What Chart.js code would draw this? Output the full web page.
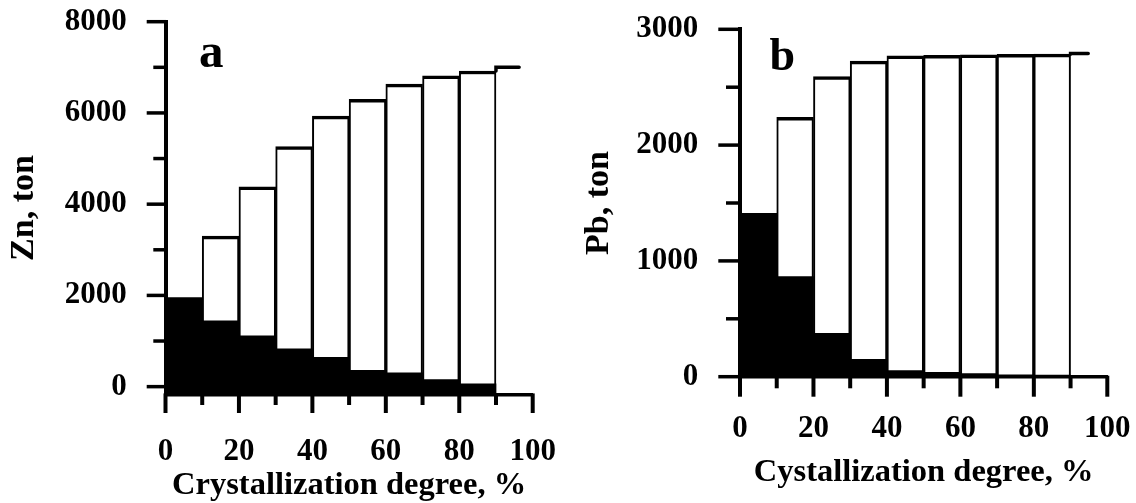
<!DOCTYPE html>
<html>
<head>
<meta charset="utf-8">
<script src="https://cdn.jsdelivr.net/npm/chart.js@4.4.0/dist/chart.umd.min.js"></script>
<style>
html,body{margin:0;padding:0;background:#fff;}
#wrap{position:relative;width:1136px;height:503px;overflow:hidden;background:#fff;}
canvas{position:absolute;top:0;}
#ca{left:0;}
#cb{left:568px;}
</style>
</head>
<body>
<div id="wrap">
<canvas id="ca" width="568" height="503"></canvas>
<canvas id="cb" width="568" height="503"></canvas>
</div>
<script>
// ---- data ----
const binStarts = [0, 10, 20, 30, 40, 50, 60, 70, 80];
const binWidth = 10;

// panel a (Zn)
const znResidual   = [1950, 1440, 1115, 830, 640, 355, 305, 155, 60];
const znCumulative = [null, 3300, 4380, 5260, 5930, 6300, 6630, 6815, 6920];
const znFinalX     = [90, 96.3];
const znFinalValue = 7000;

// panel b (Pb)
const pbResidual   = [1410, 864, 375, 150, 52, 38, 26, 17, 15];
const pbCumulative = [null, 2240, 2591, 2725, 2770, 2775, 2780, 2783, 2785];
const pbFinalX     = [90, 94.8];
const pbFinalValue = 2790;

// ticks
const xTicks      = [0, 10, 20, 30, 40, 50, 60, 70, 80, 90, 100];
const xTickLabels = ['0', '', '20', '', '40', '', '60', '', '80', '', '100'];
const znTicks      = [0, 1000, 2000, 3000, 4000, 5000, 6000, 7000, 8000];
const znTickLabels = ['0', '', '2000', '', '4000', '', '6000', '', '8000'];
const pbTicks      = [0, 500, 1000, 1500, 2000, 2500, 3000];
const pbTickLabels = ['0', '', '1000', '', '2000', '', '3000'];

const FONT = "'Liberation Serif', 'Times New Roman', serif";
Chart.defaults.font.family = FONT;
Chart.defaults.color = '#000';

const tickMarks = {
  id: 'tickMarks',
  afterDraw(chart, args, o) {
    const ctx = chart.ctx;
    const xs = chart.scales.x, ys = chart.scales.y;
    ctx.save();
    ctx.strokeStyle = '#000';
    ctx.lineCap = 'butt';
    ctx.lineWidth = 3.5;
    ys.ticks.forEach(t => {
      const y = ys.getPixelForValue(t.value);
      const len = t.label ? o.yMajor : o.yMinor;
      ctx.beginPath();
      ctx.moveTo(ys.right - len, y);
      ctx.lineTo(ys.right + 1, y);
      ctx.stroke();
    });
    ctx.lineWidth = 4;
    xs.ticks.forEach(t => {
      const x = xs.getPixelForValue(t.value);
      const len = t.label ? o.xMajor : o.xMinor;
      ctx.beginPath();
      ctx.moveTo(x, xs.top - 1);
      ctx.lineTo(x, xs.top + len);
      ctx.stroke();
    });
    ctx.fillStyle = '#000';
    ctx.font = 'bold ' + o.letterSize + 'px ' + FONT;
    ctx.textAlign = 'left';
    ctx.textBaseline = 'alphabetic';
    ctx.fillText(o.letter, chart.chartArea.left + o.letterDx, o.letterY);
    ctx.restore();
  }
};

function makePanel(id, P) {
  const blackData = binStarts.map((s, i) => ({x: s + binWidth / 2, y: P.residual[i]}));
  const whiteData = binStarts
    .map((s, i) => ({x: s + binWidth / 2, y: P.cumulative[i]}))
    .filter(d => d.y !== null);
  const lastWhite = P.cumulative[P.cumulative.length - 1];
  const finalData = [
    {x: P.finalX[0], y: lastWhite},
    {x: P.finalX[0], y: P.finalValue},
    {x: P.finalX[1], y: P.finalValue}
  ];
  return new Chart(document.getElementById(id), {
    type: 'bar',
    data: {
      datasets: [
        {
          data: blackData, backgroundColor: '#000', borderWidth: 0,
          grouped: false, barPercentage: 1, categoryPercentage: 1, base: P.yMin
        },
        {
          data: whiteData, backgroundColor: '#fff', borderColor: '#000',
          borderWidth: {top: 3.5, left: 2, right: 2, bottom: 0}, borderSkipped: false,
          grouped: false, barPercentage: 1, categoryPercentage: 1, base: P.yMin
        },
        {
          type: 'line', data: finalData, borderColor: '#000', borderWidth: 3.5,
          pointRadius: 0, fill: false, tension: 0, borderCapStyle: 'round'
        }
      ]
    },
    options: {
      responsive: false,
      animation: false,
      devicePixelRatio: 1,
      events: [],
      layout: {padding: {left: 0, top: P.padTop, right: P.padRight, bottom: 0}},
      plugins: {
        legend: {display: false},
        tooltip: {enabled: false},
        tickMarks: {
          yMajor: P.yMajor, yMinor: P.yMinor, xMajor: P.xMajor, xMinor: P.xMinor,
          letter: P.letter, letterSize: P.letterSize, letterDx: P.letterDx, letterY: P.letterY
        }
      },
      scales: {
        x: {
          type: 'linear', min: 0, max: 100, offset: false,
          afterBuildTicks: a => { a.ticks = xTicks.map(v => ({value: v})); },
          afterFit: s => { s.height = P.xHeight; },
          grid: {display: false, drawTicks: true, tickLength: P.xLabelPad, offset: false, tickColor: 'rgba(0,0,0,0)'},
          border: {display: true, width: 3.5, color: '#000', z: 1},
          ticks: {
            autoSkip: false, maxRotation: 0, padding: 0, color: '#000',
            font: {size: 31, weight: 'bold'},
            callback: (v, i) => xTickLabels[i]
          },
          title: {
            display: true, text: P.xTitle, color: '#000',
            font: {size: 32.5, weight: 'bold', lineHeight: 1}, padding: {top: 0, bottom: P.xTitlePad}
          }
        },
        y: {
          type: 'linear', min: P.yMin, max: P.yMax,
          afterBuildTicks: a => { a.ticks = P.yTicks.map(v => ({value: v})); },
          afterFit: s => { s.width = P.yWidth; },
          grid: {display: false, drawTicks: true, tickLength: P.yLabelPad, tickColor: 'rgba(0,0,0,0)'},
          border: {display: true, width: 4, color: '#000', z: 1},
          ticks: {
            autoSkip: false, padding: 0, color: '#000',
            font: {size: 31, weight: 'bold'},
            callback: (v, i) => P.yLabels[i]
          },
          title: {
            display: true, text: P.yTitle, color: '#000',
            font: {size: 34, weight: 'bold'}, padding: {top: P.yTitlePad, bottom: 0}
          }
        }
      }
    },
    plugins: [tickMarks]
  });
}

makePanel('ca', {
  residual: znResidual, cumulative: znCumulative, finalX: znFinalX, finalValue: znFinalValue,
  yMin: -170, yMax: 8000, yTicks: znTicks, yLabels: znTickLabels,
  padTop: 21.7, padRight: 35.3, yWidth: 165.5, xHeight: 108.6,
  yLabelPad: 38.8, yTitlePad: 4.1, xLabelPad: 39.2, xTitlePad: 0.65,
  yMajor: 18.8, yMinor: 12.2, xMajor: 18.6, xMinor: 10.6,
  xTitle: 'Crystallization degree, %', yTitle: 'Zn, ton',
  letter: 'a', letterSize: 49, letterDx: 33.5, letterY: 66.5
});

makePanel('cb', {
  residual: pbResidual, cumulative: pbCumulative, finalX: pbFinalX, finalValue: pbFinalValue,
  yMin: 0, yMax: 3000, yTicks: pbTicks, yLabels: pbTickLabels,
  padTop: 29.3, padRight: 28.7, yWidth: 172, xHeight: 126.3,
  yLabelPad: 41.7, yTitlePad: 11.1, xLabelPad: 34.0, xTitlePad: 13.65,
  yMajor: 21.7, yMinor: 14, xMajor: 20, xMinor: 11.6,
  xTitle: 'Cystallization degree, %', yTitle: 'Pb, ton',
  letter: 'b', letterSize: 46, letterDx: 29.5, letterY: 70
});
</script>
</body>
</html>
